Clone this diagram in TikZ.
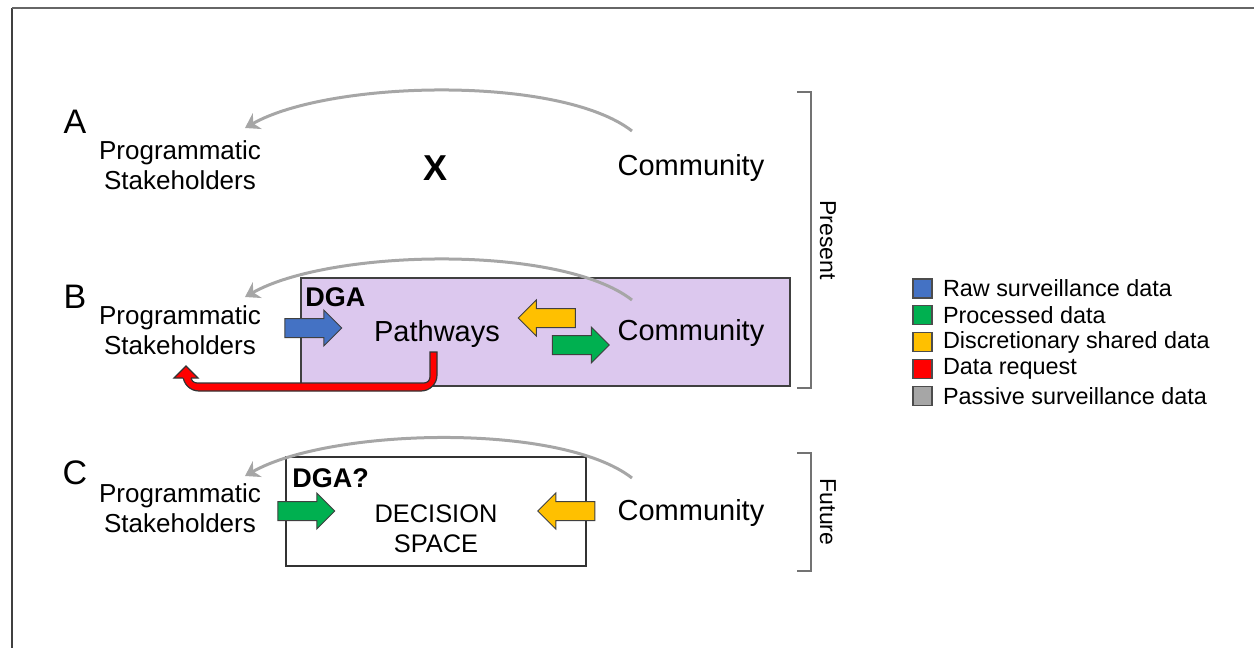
\documentclass[tikz,border=0pt]{standalone}
\usepackage{fontspec}
\setmainfont{Liberation Sans}
\usetikzlibrary{calc,arrows.meta,shapes.arrows}
\definecolor{rawblue}{HTML}{4472C4}
\definecolor{procgreen}{HTML}{00B050}
\definecolor{discyellow}{HTML}{FFC000}
\definecolor{reqred}{HTML}{FF0000}
\definecolor{passgray}{HTML}{A6A6A6}
\definecolor{dgapurple}{HTML}{DCC8EE}
\tikzset{
  actor/.style={align=center, inner sep=0pt, font=\fontsize{13}{15}\selectfont},
  community/.style={inner sep=0pt, font=\fontsize{14.5}{17}\selectfont},
  row label/.style={inner sep=0pt, font=\fontsize{17}{20}\selectfont},
  dga label/.style={anchor=west, inner sep=0pt, font=\fontsize{13.5}{16}\selectfont\bfseries},
  data arrow/.style={single arrow, draw=black!75, line width=0.5pt, fill=#1,
     minimum height=28.5pt, minimum width=17.5pt, inner sep=4.5pt,
     single arrow head extend=4.25pt},
  passive/.style={draw=passgray, line width=1.5pt, -{Stealth[length=7pt,width=9pt]}},
  request/.style={fill=reqred, draw=black!80, line width=0.6pt},
  bracket/.style={draw=black!55, line width=0.6pt},
  time label/.style={rotate=-90, inner sep=0pt, font=\fontsize{11.5}{14}\selectfont},
  legend key/.style={draw=black!70, line width=0.6pt, minimum size=9.5pt, inner sep=0pt},
  legend text/.style={anchor=west, inner sep=0pt, font=\fontsize{11.7}{14}\selectfont}
}
\begin{document}
\begin{tikzpicture}[x=0.5pt, y=-0.5pt]
\useasboundingbox (0,0) rectangle (1254,648);
% frame
\draw[black!75, line width=0.6pt] (12,648) -- (12,8);
\draw[black!60, line width=1.1pt] (12,8) -- (1254,8);

% boxes
\filldraw[fill=dgapurple, draw=black!75, line width=0.6pt] (301,278) rectangle (790,386);
\draw[black!80, line width=0.6pt] (286,457) rectangle (586,566);

% row A
\node[row label] (labA) at (75,122) {A};
\node[actor] (progA) at (180,165) {Programmatic\\Stakeholders};
\node[community] (comA) at (691,168) {Community};
\node[inner sep=0pt, font=\fontsize{18}{20}\selectfont\bfseries] (xA) at (436,168) {X};
\draw[passive] ([shift={(-59,-37)}]comA.center) .. controls +(-72,-56) and +(85,-48) .. ([shift={(65,-37)}]progA.center);

% row B
\node[row label] (labB) at (75,297) {B};
\node[actor] (progB) at (180,330) {Programmatic\\Stakeholders};
\node[community] (comB) at (691,333) {Community};
\node[community] (pathB) at (437,334) {Pathways};
\node[dga label] (dgaB) at (305,297) {DGA};
\draw[passive] ([shift={(-59,-33)}]comB.center) .. controls +(-72,-56) and +(85,-48) .. ([shift={(65,-33)}]progB.center);
\node[data arrow=rawblue] (rawB) at (308.5,328) {};
\node[data arrow=discyellow, shape border rotate=180] (discB) at (551.5,318) {};
\node[data arrow=procgreen] (procB) at (576,345) {};
% data request
\filldraw[request] (183,376) [rounded corners=8] -- (183,391) -- (437,391)
  [sharp corners] -- (437,352) -- (430,352) [rounded corners=3] -- (430,383) -- (191,383)
  [sharp corners] -- (191,376) -- cycle;
\fill[reqred] (174,378) -- (186,366) -- (198,378) -- cycle;
\draw[black!80, line width=0.6pt] (183,378) -- (174,378) -- (186,366) -- (198,378) -- (191,378);

% row C
\node[row label] (labC) at (75,473) {C};
\node[actor] (progC) at (180,508) {Programmatic\\Stakeholders};
\node[community] (comC) at (691,513) {Community};
\node[dga label] (dgaC) at (292,478) {DGA?};
\node[actor, font=\fontsize{12.7}{15}\selectfont] (decC) at (436,529) {DECISION\\SPACE};
\draw[passive] ([shift={(-59,-35)}]comC.center) .. controls +(-72,-56) and +(85,-48) .. ([shift={(65,-32)}]progC.center);
\node[data arrow=procgreen] (procC) at (301.5,511) {};
\node[data arrow=discyellow, shape border rotate=180] (discC) at (571,511) {};

% present / future
\draw[bracket] (797,92) -- (811,92) -- (811,388) -- (797,388);
\node[time label] (present) at (828,240) {Present};
\draw[bracket] (797,453) -- (811,453) -- (811,571) -- (797,571);
\node[time label] (future) at (828,512) {Future};

% legend
\foreach \col/\txt [count=\i] in {rawblue/Raw surveillance data, procgreen/Processed data,
    discyellow/Discretionary shared data, reqred/Data request, passgray/Passive surveillance data}
{
  \node[legend key, fill=\col] (key\i) at (922.5,{288.5+26.8*(\i-1)}) {};
  \node[legend text] (txt\i) at ($(key\i.east)+(10,0)$) {\txt};
}
\end{tikzpicture}
\end{document}
